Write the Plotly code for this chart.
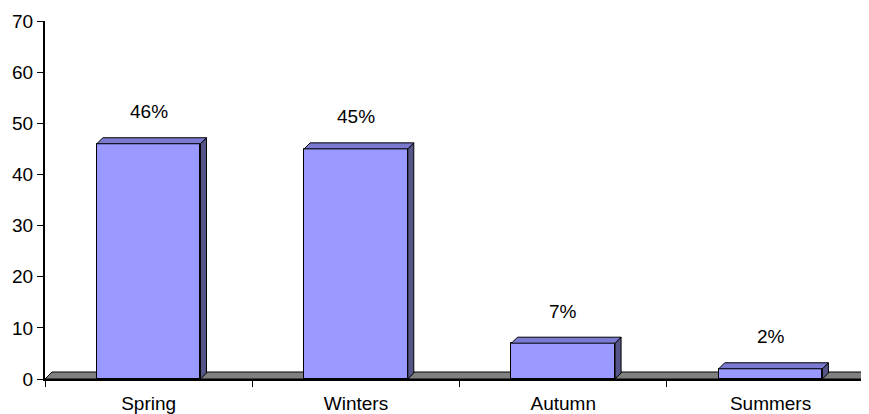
import plotly.graph_objects as go

categories = ["Spring", "Winters", "Autumn", "Summers"]
values = [46, 45, 7, 2]
labels = ["46%", "45%", "7%", "2%"]
y_ticks = [0, 10, 20, 30, 40, 50, 60, 70]

# the page body adds an 8px offset, so the figure is 8px smaller than the window
PAGE_OFF = 8
W, H = 869 - PAGE_OFF, 414 - PAGE_OFF
ML, MR, MT, MB = 45 - PAGE_OFF, 0, 21 - PAGE_OFF, 35
px_per_cat = 207.3
x0 = -0.5
x1 = x0 + (W - ML - MR) / px_per_cat
ymax = 70
px_per_unit = (H - MT - MB) / ymax

bar_w = 0.5
depth_px = 6
dx = depth_px / px_per_cat
dy = depth_px / px_per_unit
floor_dx = 7 / px_per_cat
floor_dy = 7 / px_per_unit

front = "#9999FF"
side = "#555588"
top = "#7A7AD0"

xs = list(range(len(categories)))

fig = go.Figure()

fig.add_trace(go.Bar(
    x=xs, y=values, width=bar_w,
    marker=dict(color=front, line=dict(color="black", width=1)),
    hoverinfo="skip", showlegend=False,
))

for i, v in zip(xs, values):
    r = i + bar_w / 2
    l = i - bar_w / 2
    # side face
    fig.add_trace(go.Scatter(
        x=[r, r + dx, r + dx, r, r], y=[0, dy, v + dy, v, 0],
        fill="toself", fillcolor=side, mode="lines",
        line=dict(color="black", width=1), hoverinfo="skip", showlegend=False,
    ))
    # top face
    fig.add_trace(go.Scatter(
        x=[l, l + dx, r + dx, r, l], y=[v, v + dy, v + dy, v, v],
        fill="toself", fillcolor=top, mode="lines",
        line=dict(color="black", width=1), hoverinfo="skip", showlegend=False,
    ))

# floor
fig.add_shape(
    type="path", xref="x", yref="y", layer="below",
    path=f"M {x0} 0 L {x0 + floor_dx} {floor_dy} L {x1 + 1} {floor_dy} L {x1 + 1} 0 Z",
    fillcolor="#808080", line=dict(color="black", width=1),
)

for i, v, t in zip(xs, values, labels):
    fig.add_annotation(
        x=i, y=v, text=t, showarrow=False, yshift=32,
        font=dict(family="Liberation Sans, Arial", size=19, color="black"),
    )

fig.update_layout(
    width=W, height=H,
    margin=dict(l=ML, r=MR, t=MT, b=MB, autoexpand=False),
    paper_bgcolor="white", plot_bgcolor="white",
    font=dict(family="Liberation Sans, Arial", size=19, color="black"),
    bargap=0,
)
fig.update_xaxes(
    automargin=False,
    range=[x0, x1], tickvals=xs, ticktext=categories,
    ticks="", showgrid=False, zeroline=False,
    showline=True, linecolor="black", linewidth=2,
    ticklabelstandoff=6,
    minor=dict(tick0=0.5, dtick=1, ticks="outside", ticklen=6,
               tickcolor="black", tickwidth=1, showgrid=False),
)
fig.update_yaxes(
    automargin=False,
    range=[0, ymax], tickvals=y_ticks, ticks="outside", ticklen=6,
    tickcolor="black", showgrid=False, zeroline=False,
    showline=True, linecolor="black", linewidth=2,
)

fig.write_html("out.html")
